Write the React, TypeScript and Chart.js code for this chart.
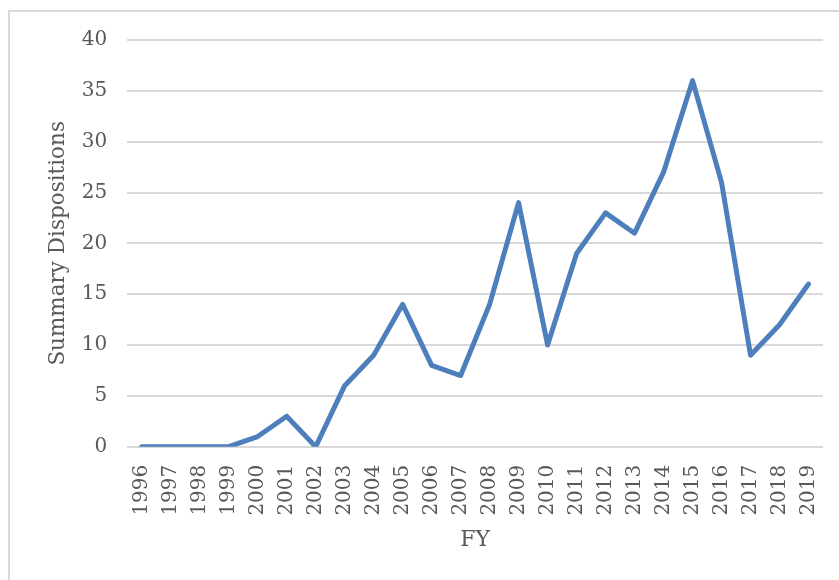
import React, { useEffect, useRef } from "react";
import { Chart, registerables } from "chart.js";

Chart.register(...registerables);

const years: string[] = [
  "1996", "1997", "1998", "1999", "2000", "2001", "2002", "2003",
  "2004", "2005", "2006", "2007", "2008", "2009", "2010", "2011",
  "2012", "2013", "2014", "2015", "2016", "2017", "2018", "2019",
];
const dispositions: number[] = [
  0, 0, 0, 0, 1, 3, 0, 6, 9, 14, 8, 7, 14, 24, 10, 19, 23, 21, 27, 36, 26, 9, 12, 16,
];
const yTitle = "Summary Dispositions";
const xTitle = "FY";

const FONT = "'DejaVu Serif', serif";
const TEXT = "#595959";
const GRID = "#d9d9d9";

export default function App() {
  const ref = useRef<HTMLCanvasElement | null>(null);

  useEffect(() => {
    document.body.style.margin = "0";
    document.body.style.overflow = "hidden";
    if (!ref.current) return;
    const chart = new Chart(ref.current, {
      type: "line",
      data: {
        labels: years,
        datasets: [
          {
            data: dispositions,
            borderColor: "#4d7fbc",
            borderWidth: 5,
            pointRadius: 0,
            borderJoinStyle: "round",
            borderCapStyle: "round",
            tension: 0,
            fill: false,
          },
        ],
      },
      options: {
        responsive: false,
        animation: false,
        layout: { padding: { left: 46, right: 16, top: 40, bottom: 27 } },
        plugins: {
          legend: { display: false },
          tooltip: { enabled: false },
        },
        scales: {
          x: {
            offset: true,
            afterFit: (scale: any) => {
              scale.paddingRight = 0;
              scale.paddingLeft = 0;
            },
            grid: { display: false, drawTicks: false },
            border: { display: false },
            ticks: {
              color: TEXT,
              font: { family: FONT, size: 20 },
              maxRotation: 90,
              minRotation: 90,
              padding: 18,
              autoSkip: false,
            },
            title: {
              display: true,
              text: xTitle,
              color: TEXT,
              font: { family: FONT, size: 22 },
              padding: { top: -7, bottom: 0 },
            },
          },
          y: {
            min: 0,
            max: 40,
            afterFit: (scale: any) => {
              scale.width = scale.width - 10;
            },
            grid: { color: GRID, lineWidth: 2, drawTicks: false },
            border: { display: false },
            ticks: {
              stepSize: 5,
              color: TEXT,
              font: { family: FONT, size: 20 },
              padding: 20,
            },
            title: {
              display: true,
              text: yTitle,
              color: TEXT,
              font: { family: FONT, size: 21.5 },
              padding: { top: 0, bottom: 0 },
            },
          },
        },
      },
    });
    return () => chart.destroy();
  }, []);

  return (
    <div style={{ position: "relative", width: 839, height: 580, background: "#fff" }}>
      <div
        style={{
          position: "absolute",
          left: 8,
          top: 10,
          width: 840,
          height: 580,
          borderTop: `2px solid ${GRID}`,
          borderLeft: `2px solid ${GRID}`,
          boxSizing: "border-box",
          pointerEvents: "none",
        }}
      />
      <canvas ref={ref} width={839} height={580} style={{ position: "absolute", left: 0, top: 0 }} />
    </div>
  );
}
